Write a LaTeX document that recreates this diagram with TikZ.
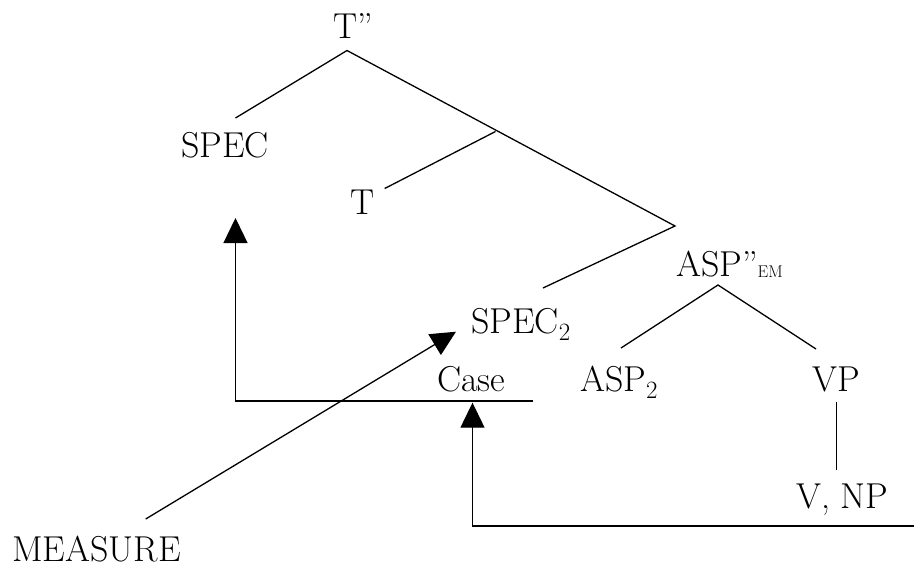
\documentclass[tikz,border=0pt]{standalone}
\usepackage{fontspec}
\usetikzlibrary{arrows.meta}
\begin{document}
\begin{tikzpicture}[x=1pt,y=-1pt,
  lbl/.style={inner sep=0pt, font=\fontsize{36}{40}\selectfont},
  branch/.style={line width=1.3pt},
  conn/.style={line width=1.3pt, -{Triangle[length=25pt,width=24pt]}}]
\useasboundingbox (0,0) rectangle (914,565);
% labels
\node[lbl, anchor=base] (troot) at (353,38) {T”};
\node[lbl, anchor=base] (spec) at (225,157) {SPEC};
\node[lbl, anchor=base] (t) at (363,214) {T};
\node[lbl, anchor=base west] (spec2) at (471,333) {SPEC$_2$};
\node[lbl, anchor=base west] (asp) at (676,276) {ASP”\raisebox{-0.1ex}{\fontsize{17}{17}\selectfont EM}};
\node[lbl, anchor=base west] (asp2) at (580,391) {ASP$_2$};
\node[lbl, anchor=base] (vp) at (836.5,391) {VP};
\node[lbl, anchor=base west] (case) at (437,391) {Case};
\node[lbl, anchor=base west] (vnp) at (796,508) {V,\ NP};
\node[lbl, anchor=base west] (measure) at (12,561) {MEASURE};
% tree coordinates
\coordinate (a0) at (347,50.5);
\coordinate (aspec) at (235.5,118);
\coordinate (b1) at (495.5,131.5);
\coordinate (at) at (384.7,188.5);
\coordinate (b2) at (675,226);
\coordinate (aspec2) at (543,288);
\coordinate (a3) at (718,285);
\coordinate (aasp2) at (621,348);
\coordinate (avp) at (816,349);
\coordinate (vtop) at (836.5,402);
\coordinate (vbot) at (836.5,470);
% tree branches
\draw[branch] (aspec) -- (a0) -- (b2) -- (aspec2);
\draw[branch] (b1) -- (at);
\draw[branch] (aasp2) -- (a3) -- (avp);
\draw[branch] (vtop) -- (vbot);
% connectors
\coordinate (c1) at (533,401);
\coordinate (c2) at (235.5,401);
\coordinate (c3) at (235.5,218);
\draw[conn] (c1) -- (c2) -- (c3);
\coordinate (d1) at (914,526);
\coordinate (d2) at (472.5,526);
\coordinate (d3) at (472.5,402.7);
\draw[conn] (d1) -- (d2) -- (d3);
\coordinate (m1) at (145.7,519);
\coordinate (m2) at (456,331.7);
\draw[conn] (m1) -- (m2);
\end{tikzpicture}
\end{document}
